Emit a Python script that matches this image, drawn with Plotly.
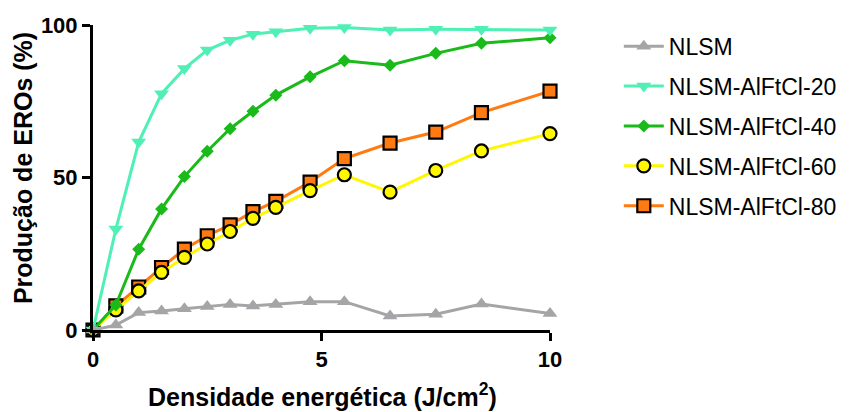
import plotly.graph_objects as go

# Energy density (J/cm^2)
density = [0, 0.5, 1, 1.5, 2, 2.5, 3, 3.5, 4, 4.75, 5.5, 6.5, 7.5, 8.5, 10]

# ROS production (%) per sample
nlsm = [0, 1.6, 5.7, 6.2, 7.0, 7.7, 8.4, 7.9, 8.4, 9.3, 9.3, 4.6, 5.2, 8.5, 5.4]
alftcl_20 = [0, 33.1, 61.6, 77.5, 85.7, 91.8, 95.0, 97.0, 97.8, 98.9, 99.2, 98.4, 98.6, 98.6, 98.4]
alftcl_40 = [0, 8.2, 26.5, 39.7, 50.3, 58.6, 66.0, 71.7, 77.0, 83.0, 88.3, 86.8, 90.7, 94.0, 95.8]
alftcl_60 = [0, 6.6, 12.8, 18.9, 23.8, 28.2, 32.3, 36.6, 40.2, 45.7, 50.9, 45.2, 52.3, 58.7, 64.4]
alftcl_80 = [0, 7.9, 14.1, 20.5, 26.5, 30.9, 34.5, 38.8, 42.2, 48.5, 56.2, 61.3, 64.9, 71.3, 78.3]

series_names = ["NLSM", "NLSM-AlFtCl-20", "NLSM-AlFtCl-40", "NLSM-AlFtCl-60", "NLSM-AlFtCl-80"]

x_title = "Densidade energética (J/cm<sup>2</sup>)"
y_title = "Produção de EROs (%)"

FONT = "Liberation Sans, Arial, sans-serif"

styles = {
    "NLSM": dict(color="#A5A5A8", symbol="triangle-up", size=13, line=dict(width=0)),
    "NLSM-AlFtCl-20": dict(color="#4FF0B6", symbol="triangle-down", size=13, line=dict(width=0)),
    "NLSM-AlFtCl-40": dict(color="#19BA19", symbol="diamond", size=10, line=dict(width=0)),
    "NLSM-AlFtCl-60": dict(color="#FFF700", symbol="circle", size=13, line=dict(width=2.2, color="black")),
    "NLSM-AlFtCl-80": dict(color="#FF7A10", symbol="square", size=13, line=dict(width=2.2, color="black")),
}
values = {
    "NLSM": nlsm,
    "NLSM-AlFtCl-20": alftcl_20,
    "NLSM-AlFtCl-40": alftcl_40,
    "NLSM-AlFtCl-60": alftcl_60,
    "NLSM-AlFtCl-80": alftcl_80,
}

fig = go.Figure()
# drawn last-to-first so the NLSM series sits on top; legendrank keeps NLSM first in the legend
for name in reversed(series_names):
    st = styles[name]
    fig.add_trace(go.Scatter(
        x=density, y=values[name], name=name, mode="lines+markers",
        line=dict(color=st["color"], width=3),
        marker=dict(color=st["color"], symbol=st["symbol"], size=st["size"], line=st["line"]),
        cliponaxis=False, legendgroup=name,
        legendrank=series_names.index(name) + 1,
    ))

axis_common = dict(
    showline=True, linecolor="black", linewidth=3,
    ticks="outside", ticklen=8, tickwidth=3, tickcolor="black",
    showgrid=False, zeroline=False, automargin=False,
    tickfont=dict(family=FONT, size=22, color="black", weight="bold"),
)

fig.update_layout(
    width=850, height=412,
    margin=dict(l=93, r=300, t=25, b=82),
    paper_bgcolor="white", plot_bgcolor="white",
    xaxis=dict(range=[0, 10], tickvals=[0, 5, 10], **axis_common),
    yaxis=dict(range=[0, 100], tickvals=[0, 50, 100], **axis_common),
    legend=dict(xref="container", yref="container",
                x=0.728, xanchor="left", y=0.940, yanchor="top",
                traceorder="grouped", tracegroupgap=7,
                font=dict(family=FONT, size=23, color="black"),
                itemwidth=40, bgcolor="rgba(0,0,0,0)"),
    showlegend=True,
    annotations=[
        dict(text=x_title, xref="paper", yref="paper", x=0.503, y=-0.212,
             xanchor="center", yanchor="middle", showarrow=False,
             font=dict(family=FONT, size=25, color="black", weight="bold")),
        dict(text=y_title, xref="paper", yref="paper", x=-0.153, y=0.531,
             xanchor="center", yanchor="middle", showarrow=False, textangle=-90,
             font=dict(family=FONT, size=25, color="black", weight="bold")),
    ],
)

fig.write_html("out.html")
